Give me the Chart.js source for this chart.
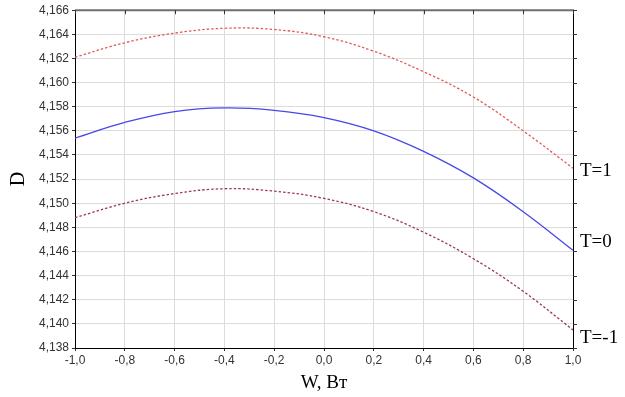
<!DOCTYPE html>
<html>
<head>
<meta charset="utf-8">
<script src="https://cdn.jsdelivr.net/npm/chart.js@4.4.1/dist/chart.umd.min.js"></script>
<style>
  html, body { margin: 0; padding: 0; background: #fff; }
  #wrap { width: 625px; height: 397px; }
</style>
</head>
<body>
<div id="wrap"><canvas id="c" width="625" height="397"></canvas></div>
<script>
// W values along the x axis
const wValues = [-1.0, -0.8, -0.6, -0.4, -0.2, 0.0, 0.2, 0.4, 0.6, 0.8, 1.0];

// D for each curve
const dT1 = [4.1621, 4.1633, 4.1641, 4.1645, 4.1644, 4.1638, 4.1626, 4.1609, 4.1588, 4.1560, 4.1529];
const dT0 = [4.1554, 4.1567, 4.1576, 4.1579, 4.1577, 4.1571, 4.1560, 4.1543, 4.1521, 4.1493, 4.1461];
const dTm1 = [4.1488, 4.1500, 4.1508, 4.1512, 4.1510, 4.1504, 4.1493, 4.1476, 4.1454, 4.1427, 4.1395];

const curveLabels = ['T=1', 'T=0', 'T=-1'];
// where the side labels sit, in D units
const labelAnchors = [4.1527, 4.1468, 4.1388];

function comma(v, digits) {
    return v.toFixed(digits).replace('.', ',');
}

function toPoints(ys) {
    return wValues.map((w, i) => ({ x: w, y: ys[i] }));
}

const frame = {
    id: 'frame',
    afterDraw(chart) {
        const ctx = chart.ctx;
        const a = chart.chartArea;
        const y = chart.scales.y;
        const x = chart.scales.x;
        ctx.save();
        // top border
        ctx.strokeStyle = '#6e6e6e';
        ctx.lineWidth = 2;
        ctx.beginPath();
        ctx.moveTo(a.left, a.top);
        ctx.lineTo(a.right + 1, a.top);
        ctx.stroke();
        // right border
        ctx.strokeStyle = '#000';
        ctx.lineWidth = 1;
        ctx.beginPath();
        ctx.moveTo(a.right + 0.5, a.top);
        ctx.lineTo(a.right + 0.5, a.bottom);
        ctx.stroke();
        // small tick marks on top and right
        ctx.strokeStyle = '#333';
        x.ticks.forEach(t => {
            const px = Math.round(x.getPixelForValue(t.value)) + 0.5;
            ctx.beginPath();
            ctx.moveTo(px, a.top);
            ctx.lineTo(px, a.top + 4);
            ctx.stroke();
        });
        y.ticks.forEach(t => {
            const py = Math.round(y.getPixelForValue(t.value)) + 0.5;
            ctx.beginPath();
            ctx.moveTo(a.right, py);
            ctx.lineTo(a.right + 4, py);
            ctx.stroke();
        });
        // curve labels
        ctx.fillStyle = '#000';
        ctx.font = '19px "Liberation Serif", "Times New Roman", serif';
        ctx.textAlign = 'left';
        ctx.textBaseline = 'middle';
        curveLabels.forEach((txt, i) => {
            ctx.fillText(txt, a.right + 7, y.getPixelForValue(labelAnchors[i]));
        });
        ctx.restore();
    }
};

new Chart(document.getElementById('c'), {
    type: 'line',
    data: {
        datasets: [
            {
                label: curveLabels[0],
                data: toPoints(dT1),
                borderColor: '#e25a5a',
                borderWidth: 1.3,
                borderDash: [2.5, 2],
                pointRadius: 0,
                tension: 0.4,
                fill: false
            },
            {
                label: curveLabels[1],
                data: toPoints(dT0),
                borderColor: '#4848e8',
                borderWidth: 1.3,
                pointRadius: 0,
                tension: 0.4,
                fill: false
            },
            {
                label: curveLabels[2],
                data: toPoints(dTm1),
                borderColor: '#9a3c4c',
                borderWidth: 1.3,
                borderDash: [2.5, 2],
                pointRadius: 0,
                tension: 0.4,
                fill: false
            }
        ]
    },
    options: {
        responsive: false,
        animation: false,
        layout: { padding: { top: 7, right: 52, left: 0, bottom: 0 } },
        plugins: {
            legend: { display: false },
            tooltip: { enabled: false }
        },
        scales: {
            x: {
                type: 'linear',
                min: -1,
                max: 1,
                afterFit(scale) { scale.height = 49; },
                ticks: {
                    stepSize: 0.2,
                    color: '#333',
                    font: { family: 'Liberation Sans, Arial, sans-serif', size: 12 },
                    padding: 2,
                    maxRotation: 0,
                    callback: v => comma(v, 1)
                },
                grid: { color: '#dcdcdc', lineWidth: 1, tickLength: 3, tickColor: '#333' },
                border: { color: '#000', width: 1 },
                title: {
                    display: true,
                    text: 'W, Вт',
                    color: '#000',
                    font: { family: 'Liberation Serif, "Times New Roman", serif', size: 19 },
                    padding: { top: 0, bottom: 3 }
                }
            },
            y: {
                min: 4.138,
                max: 4.166,
                afterFit(scale) { scale.width = 75; },
                ticks: {
                    stepSize: 0.002,
                    color: '#333',
                    font: { family: 'Liberation Sans, Arial, sans-serif', size: 12 },
                    padding: 3,
                    callback: v => comma(v, 3)
                },
                grid: { color: '#dcdcdc', lineWidth: 1, tickLength: 3, tickColor: '#333' },
                border: { color: '#000', width: 1 },
                title: {
                    display: true,
                    text: 'D',
                    color: '#000',
                    font: { family: 'Liberation Serif, "Times New Roman", serif', size: 20 },
                    padding: { top: 7, bottom: 0 }
                }
            }
        }
    },
    plugins: [frame]
});
</script>
</body>
</html>
